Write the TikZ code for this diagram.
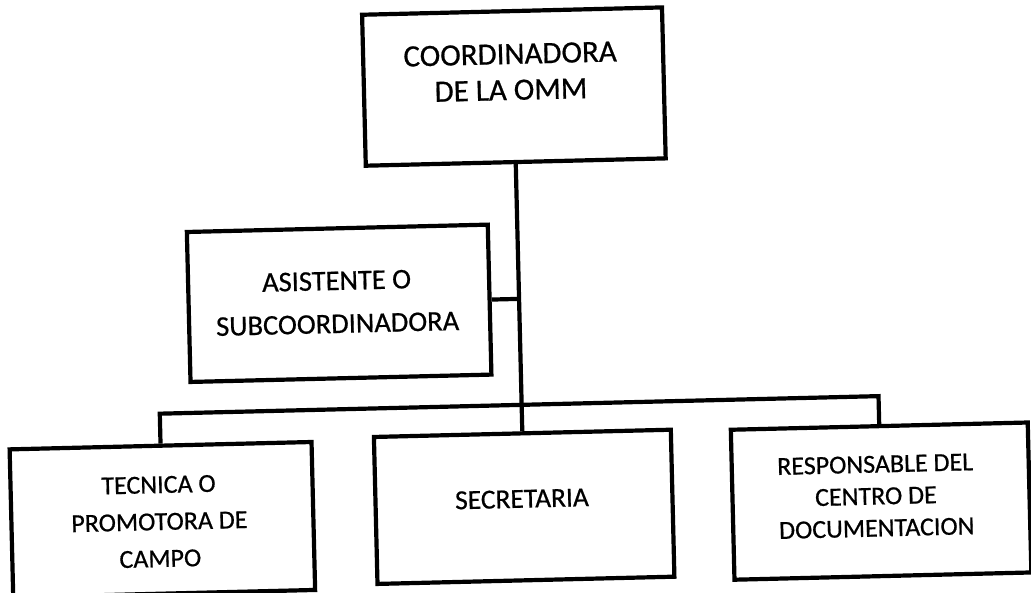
\documentclass[tikz,border=0pt]{standalone}
\usepackage{fontspec}
\setmainfont{Carlito}[FakeBold=0.6]

\begin{document}
\begin{tikzpicture}[x=1pt, y=1pt,
        puesto/.style={draw, line width=4.2pt, inner sep=0pt, minimum width=300pt, minimum height=150pt},
        rotulo/.style={align=center, inner sep=0pt},
        linea/.style={line width=4.2pt}]
    \useasboundingbox (0,0) rectangle (1031,-593);
    \clip (0,0) rectangle (1031,-593);
    \begin{scope}[rotate around={1.4:(515,-296)}, transform shape]
        \pgfmathsetmacro{\tronco}{519};
        % cajas
        \node [puesto, minimum height=151pt] (coord) at (\tronco, -86.6) {};
        \node [puesto, minimum width=301pt] (asist) at (339, -299) {};
        \node [puesto, minimum width=302pt, minimum height=148pt] (tec) at (157, -511) {};
        \node [puesto, minimum width=297pt, minimum height=147pt] (sec) at (\tronco, -507) {};
        \node [puesto, minimum width=297pt] (resp) at (876, -510) {};
        % textos
        \node [rotulo, font=\fontsize{31}{36}\selectfont] (coordtxt) at (516, -72) {COORDINADORA\\DE LA OMM};
        \node [rotulo, font=\fontsize{28.5}{43}\selectfont] (asisttxt) at (337, -298) {ASISTENTE O\\SUBCOORDINADORA};
        \node [rotulo, font=\fontsize{26}{37}\selectfont] (tectxt) at (154, -513) {TECNICA O\\PROMOTORA DE\\CAMPO};
        \node [rotulo, font=\fontsize{27.5}{32}\selectfont] (sectxt) at (517, -499) {SECRETARIA};
        \node [rotulo, font=\fontsize{26}{32}\selectfont] (resptxt) at (871, -505) {RESPONSABLE DEL\\CENTRO DE\\DOCUMENTACION};
        % lineas
        \coordinate (bus) at (\tronco, -405);
        \draw [linea] (coord.south) -- (sec.north);
        \draw [linea] (asist.east) -- (asist.east -| coord.south);
        \draw [linea] (tec.north) |- (resp.north |- bus) -- (resp.north);
    \end{scope}
\end{tikzpicture}
\end{document}
